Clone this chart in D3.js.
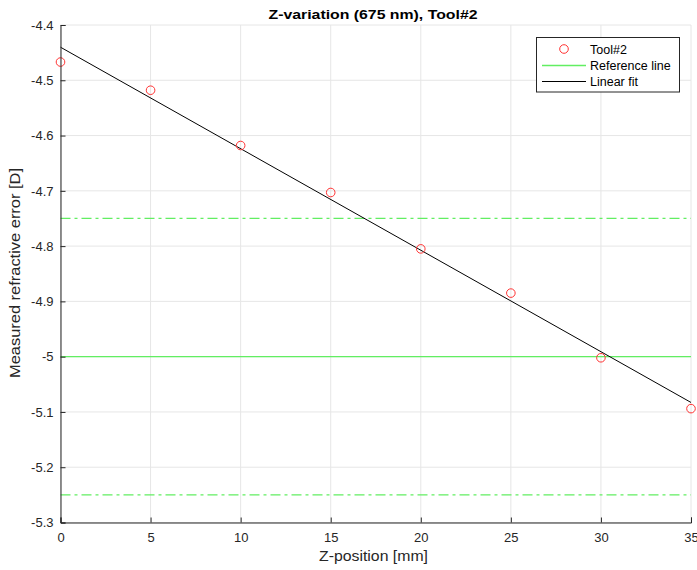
<!DOCTYPE html>
<html>
<head>
<meta charset="utf-8">
<script src="https://cdn.jsdelivr.net/npm/d3@7"></script>
<style>
  html, body { margin: 0; padding: 0; background: #fff; }
  svg { display: block; font-family: "Liberation Sans", Arial, Helvetica, sans-serif; }
</style>
</head>
<body>
<svg id="chart" width="697" height="570"></svg>
<script>
// Measured refractive error at each Z-position for Tool#2 (675 nm)
const zPositions = [0, 5, 10, 15, 20, 25, 30, 35];
const measured = [-4.467, -4.518, -4.618, -4.703, -4.805, -4.885, -5.002, -5.094];
// Reference level and its tolerance band
const referenceValue = -5.0;
const toleranceValues = [-4.75, -5.25];
const xTicks = [0, 5, 10, 15, 20, 25, 30, 35];
const yTicks = [-4.4, -4.5, -4.6, -4.7, -4.8, -4.9, -5.0, -5.1, -5.2, -5.3];
const legendLabels = ["Tool#2", "Reference line", "Linear fit"];

const svg = d3.select("#chart");
const margin = { left: 60.5, right: 6, top: 25, bottom: 47.5 };
const W = 697, H = 570;

const x = d3.scaleLinear().domain([0, 35]).range([margin.left, W - margin.right]);
const y = d3.scaleLinear().domain([-5.3, -4.4]).range([H - margin.bottom, margin.top]);

const green = "#62ee62";
const grid = "#e6e6e6";
const axisCol = "#262626";

// Least-squares linear fit through the measurements
const n = zPositions.length;
const mx = d3.mean(zPositions), my = d3.mean(measured);
let sxy = 0, sxx = 0;
for (let i = 0; i < n; i++) {
  sxy += (zPositions[i] - mx) * (measured[i] - my);
  sxx += (zPositions[i] - mx) ** 2;
}
const slope = sxy / sxx, intercept = my - slope * mx;
const fit = t => intercept + slope * t;

// Grid
const g = svg.append("g");
g.selectAll(".gx").data(xTicks).join("line")
  .attr("x1", d => x(d)).attr("x2", d => x(d))
  .attr("y1", y(-5.3)).attr("y2", y(-4.4))
  .attr("stroke", grid).attr("stroke-width", 1);
g.selectAll(".gy").data(yTicks).join("line")
  .attr("x1", x(0)).attr("x2", x(35))
  .attr("y1", d => y(d)).attr("y2", d => y(d))
  .attr("stroke", grid).attr("stroke-width", 1);

// Reference line and tolerance lines
svg.append("line")
  .attr("x1", x(0)).attr("x2", x(35))
  .attr("y1", y(referenceValue)).attr("y2", y(referenceValue))
  .attr("stroke", green).attr("stroke-width", 1.3);
svg.selectAll(".tol").data(toleranceValues).join("line")
  .attr("x1", x(0)).attr("x2", x(35))
  .attr("y1", d => y(d)).attr("y2", d => y(d))
  .attr("stroke", green).attr("stroke-width", 1.3)
  .attr("stroke-dasharray", "10,4,3,4");

// Fit line
svg.append("path")
  .datum([0, 35])
  .attr("d", d3.line().x(d => x(d)).y(d => y(fit(d))))
  .attr("stroke", "#000").attr("stroke-width", 1).attr("fill", "none");

// Measurement markers
svg.selectAll(".pt").data(zPositions).join("circle")
  .attr("cx", d => x(d))
  .attr("cy", (d, i) => y(measured[i]))
  .attr("r", 4.3)
  .attr("fill", "none").attr("stroke", "#ff3333").attr("stroke-width", 1);

// Axes
const xAxis = d3.axisBottom(x).tickValues(xTicks).tickSize(-5).tickPadding(10).tickFormat(d3.format("d"));
const yAxis = d3.axisLeft(y).tickValues(yTicks).tickSize(-5).tickPadding(7)
  .tickFormat(d => (+d.toFixed(1)).toString());

const gx = svg.append("g").attr("transform", `translate(0,${y(-5.3)})`).call(xAxis);
const gy = svg.append("g").attr("transform", `translate(${x(0)},0)`).call(yAxis);
[gx, gy].forEach(a => {
  a.select(".domain").attr("stroke", axisCol).attr("stroke-width", 1);
  a.selectAll(".tick line").attr("stroke", axisCol);
  a.selectAll(".tick text").attr("fill", axisCol).style("font-size", "13px")
    .style("font-family", "'Liberation Sans', Arial, sans-serif");
});

// Title and axis labels
svg.append("text")
  .attr("x", 373).attr("y", 19)
  .attr("text-anchor", "middle")
  .attr("textLength", 209).attr("lengthAdjust", "spacingAndGlyphs")
  .style("font-weight", "bold").style("font-size", "13px").attr("fill", "#000")
  .text("Z-variation (675 nm), Tool#2");
svg.append("text")
  .attr("x", 373.5).attr("y", 561)
  .attr("text-anchor", "middle")
  .attr("textLength", 109).attr("lengthAdjust", "spacingAndGlyphs")
  .style("font-size", "14px").attr("fill", axisCol)
  .text("Z-position [mm]");
svg.append("text")
  .attr("transform", `translate(20,273) rotate(-90)`)
  .attr("text-anchor", "middle")
  .attr("textLength", 210).attr("lengthAdjust", "spacingAndGlyphs")
  .style("font-size", "14px").attr("fill", axisCol)
  .text("Measured refractive error [D]");

// Legend
const lg = svg.append("g");
lg.append("rect")
  .attr("x", 536.5).attr("y", 37.5).attr("width", 143).attr("height", 54.5)
  .attr("fill", "#fff").attr("stroke", axisCol).attr("stroke-width", 1);
const rowY = [49, 65.5, 81.5];
lg.append("circle").attr("cx", 564).attr("cy", rowY[0]).attr("r", 4.3)
  .attr("fill", "none").attr("stroke", "#ff3333");
lg.append("line").attr("x1", 542).attr("x2", 586).attr("y1", rowY[1]).attr("y2", rowY[1])
  .attr("stroke", green).attr("stroke-width", 1.3);
lg.append("line").attr("x1", 542).attr("x2", 586).attr("y1", rowY[2]).attr("y2", rowY[2])
  .attr("stroke", "#000").attr("stroke-width", 1);
lg.selectAll(".lt").data(legendLabels).join("text")
  .attr("x", 590).attr("y", (d, i) => rowY[i] + 4.5)
  .style("font-size", "12.5px").attr("fill", "#000")
  .text(d => d);
</script>
</body>
</html>
